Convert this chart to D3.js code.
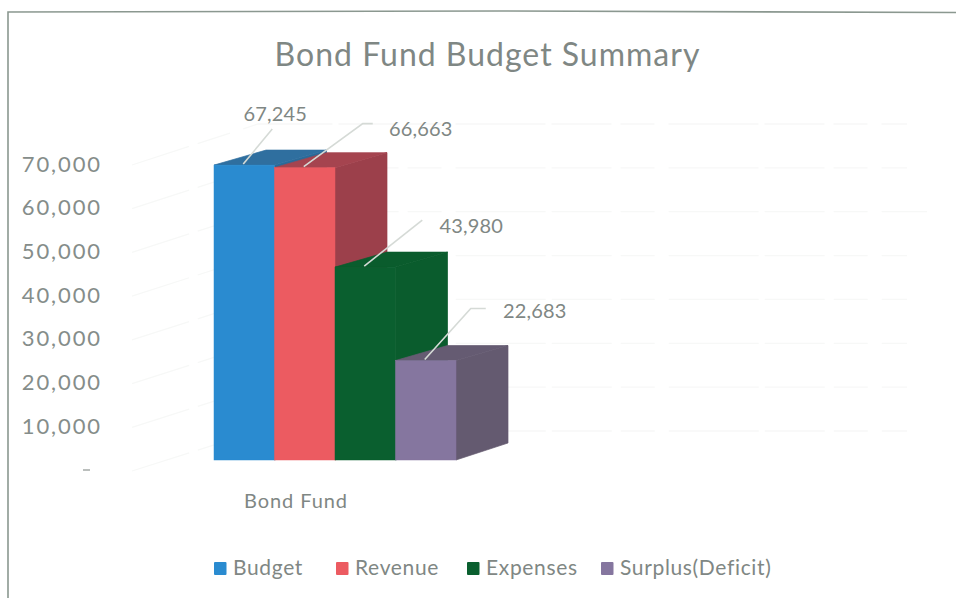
<!DOCTYPE html>
<html>
<head>
<meta charset="utf-8">
<style>
  html, body { margin: 0; padding: 0; background: #fff; }
  svg { display: block; }
  text { font-family: Lato, "Noto Sans", sans-serif; fill: #7f8784; }
</style>
<script src="https://cdn.jsdelivr.net/npm/d3@7"></script>
</head>
<body>
<svg id="chart" width="956" height="598"></svg>
<script>
const chartTitle = "Bond Fund Budget Summary";
const category = "Bond Fund";
const seriesNames = ["Budget", "Revenue", "Expenses", "Surplus(Deficit)"];
const seriesValues = [67245, 66663, 43980, 22683];
const axisTicks = [0, 10000, 20000, 30000, 40000, 50000, 60000, 70000];

const frontColors = ["#2a8bd0", "#ec5b61", "#0a5f2f", "#85769f"];
const topColors = ["#2f6f9f", "#a5444f", "#0a5c2d", "#655b72"];
const sideColors = ["#2a6a98", "#9c404b", "#0a5c2d", "#645a70"];

// Callout placement for each value label: text centre and leader elbow, relative to the bar's top centre
const calloutText = [[32, -51], [117, -39], [107, -41], [110, -50]];
const calloutElbow = [[29, -35], [59, -43], [58, -46], [46, -51]];
const calloutEnd = [[29, -35], [69, -43], [58, -46], [61, -51]];

const svg = d3.select("#chart");
const depth = { x: 52, y: -15 };

// Frame: only the top and left rules show
svg.append("path")
  .attr("d", "M8,598 L8,12 L500,11 L956,12.5")
  .attr("fill", "none").attr("stroke", "#8b9890").attr("stroke-width", 1.6);

svg.append("text").attr("x", 487.5).attr("y", 66)
  .attr("text-anchor", "middle").attr("font-size", 32)
  .attr("letter-spacing", 1).text(chartTitle);

// Bar front faces share this scale; the axis labels sit on a slightly lower one
const x0 = d3.scaleBand().domain([category]).range([214, 456]);
const x1 = d3.scaleBand().domain(seriesNames).range([0, x0.bandwidth()]);
const yBar = d3.scaleLinear().domain([0, 70000]).range([460, 153]);
const yAxis = d3.scaleLinear().domain([0, 70000]).range([470, 164]);
const yWall = d3.scaleLinear().domain([0, 70000]).range([433, 126]);

// Very faint gridlines on the side wall and back wall
const grid = svg.append("g").attr("fill", "none")
  .attr("stroke", "#f7f8f7").attr("stroke-width", 1.3);
grid.selectAll("path").data(axisTicks).join("path")
  .attr("stroke-dasharray", "60 9 34 14 90 6")
  .attr("d", d => `M132,${yAxis(d) + 1} L258,${yWall(d) - 2} L${d === 50000 ? 927 : 907},${yWall(d) - 2}`);

// Value axis: labels only
const axis = svg.append("g").attr("transform", "translate(102,0)")
  .call(d3.axisLeft(yAxis).tickValues(axisTicks).tickSize(0).tickPadding(0)
    .tickFormat(d => d === 0 ? "" : d3.format(",")(d)));
axis.select(".domain").remove();
axis.selectAll("text").attr("font-size", 22).attr("letter-spacing", 1.9)
  .attr("font-family", "Lato, sans-serif").style("fill", "#858d8a");

// The zero tick is a short dash set in from the label column
svg.append("line").attr("x1", 83).attr("x2", 90)
  .attr("y1", yAxis(0)).attr("y2", yAxis(0))
  .attr("stroke", "#a4aaa7").attr("stroke-width", 1.5);

// Bars drawn left to right so that each one covers the previous one's depth faces
const bars = svg.append("g").selectAll("g")
  .data(seriesNames.map((name, i) => ({ name, value: seriesValues[i], i })))
  .join("g");

const left = d => x0(category) + x1(d.name);
const right = d => left(d) + x1.bandwidth();
const poly = pts => pts.map(p => p.join(",")).join(" ");

// A hairline stroke in the face colour closes the antialiasing seam between faces
bars.append("polygon").attr("fill", d => sideColors[d.i])
  .attr("stroke", d => sideColors[d.i]).attr("stroke-width", 0.7)
  .attr("points", d => poly([
    [right(d), yBar(d.value)],
    [right(d) + depth.x, yBar(d.value) + depth.y],
    [right(d) + depth.x, yBar(0) + depth.y - 2],
    [right(d), yBar(0)]
  ]));
bars.append("polygon").attr("fill", d => topColors[d.i])
  .attr("stroke", d => topColors[d.i]).attr("stroke-width", 0.7)
  .attr("points", d => poly([
    [left(d), yBar(d.value)],
    [right(d), yBar(d.value)],
    [right(d) + depth.x, yBar(d.value) + depth.y],
    [left(d) + depth.x, yBar(d.value) + depth.y]
  ]));
bars.append("rect").attr("fill", d => frontColors[d.i])
  .attr("stroke", d => frontColors[d.i]).attr("stroke-width", 0.5)
  .attr("x", left).attr("width", x1.bandwidth())
  .attr("y", d => yBar(d.value)).attr("height", d => yBar(0) - yBar(d.value));

// Leader lines and value labels
const anchorX = d => left(d) + x1.bandwidth() / 2 - 1;
const anchorY = d => yBar(d.value) - 1;
const callouts = svg.append("g").selectAll("g").data(bars.data()).join("g");
callouts.append("polyline").attr("fill", "none")
  .attr("stroke", "#d5dad6").attr("stroke-width", 1.6)
  .attr("points", d => poly([
    [anchorX(d), anchorY(d)],
    [anchorX(d) + calloutElbow[d.i][0], anchorY(d) + calloutElbow[d.i][1]],
    [anchorX(d) + calloutEnd[d.i][0], anchorY(d) + calloutEnd[d.i][1]]
  ]));
callouts.append("text").attr("text-anchor", "middle")
  .attr("dominant-baseline", "central").attr("font-size", 20)
  .attr("letter-spacing", 0.2)
  .attr("x", d => anchorX(d) + calloutText[d.i][0])
  .attr("y", d => anchorY(d) + calloutText[d.i][1])
  .text(d => d3.format(",")(d.value));

svg.append("text").attr("x", 296).attr("y", 508)
  .attr("text-anchor", "middle").attr("font-size", 20)
  .attr("letter-spacing", 0.9).text(category);

// Legend
const legendX = d3.scaleOrdinal().domain(seriesNames).range([214, 336, 467, 601]);
const legend = svg.append("g").selectAll("g").data(seriesNames).join("g")
  .attr("transform", d => `translate(${legendX(d)},568)`);
legend.append("rect").attr("x", 0).attr("y", -6).attr("width", 12.5).attr("height", 13)
  .attr("rx", 1).attr("fill", (d, i) => frontColors[i]);
legend.append("text").attr("x", 19).attr("y", 7).attr("font-size", 21)
  .attr("letter-spacing", 0.65).text(d => d);
</script>
</body>
</html>
